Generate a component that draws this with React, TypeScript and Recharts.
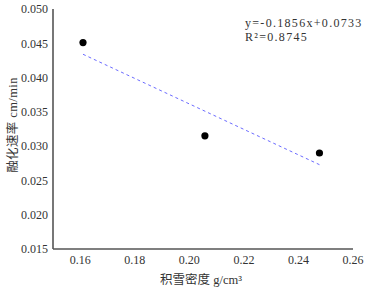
import React from 'react';
import { ScatterChart, Scatter, XAxis, YAxis, Label } from 'recharts';

const densityValues = [0.161, 0.2057, 0.2477];
const meltRateValues = [0.0451, 0.0315, 0.029];
const trendX = [0.161, 0.2477];
const trendY = [0.0434, 0.0273];
const xTicks = [0.16, 0.18, 0.2, 0.22, 0.24, 0.26];
const yTicks = [0.015, 0.02, 0.025, 0.03, 0.035, 0.04, 0.045, 0.05];
const equationText = 'y=-0.1856x+0.0733';
const r2Text = 'R²=0.8745';
const xLabel = '积雪密度 g/cm³';
const yLabel = '融化速率 cm/min';

const points = densityValues.map((x, i) => ({ x, y: meltRateValues[i] }));
const trend = trendX.map((x, i) => ({ x, y: trendY[i] }));

const FONT = '"Liberation Serif", "Noto Sans CJK SC", serif';
const TEXT = '#333';

const Dot = (props: any) => <circle cx={props.cx} cy={props.cy} r={3.6} fill="#000" />;
const NoShape = () => null;

export default function App() {
  return (
    <div style={{ position: 'absolute', left: 0, top: 0, width: 365, height: 288, background: '#fff' }}>
      <ScatterChart width={365} height={288} margin={{ top: 9, right: 12, bottom: 0, left: 0 }}>
        <XAxis
          type="number"
          dataKey="x"
          domain={[0.15, 0.26]}
          ticks={xTicks}
          tickFormatter={(v: number) => v.toFixed(2)}
          height={39}
          tickLine={false}
          tickSize={4}
          tickMargin={2}
          axisLine={{ stroke: '#555', strokeWidth: 1.6 }}
          tick={{ fill: TEXT, fontSize: 12, fontFamily: FONT }}
          allowDataOverflow
        >
          <Label
            content={() => (
              <text x={201} y={280} textAnchor="middle" dominantBaseline="central" fill={TEXT} fontSize={12.5} fontFamily={FONT}>
                {xLabel}
              </text>
            )}
          />
        </XAxis>
        <YAxis
          type="number"
          dataKey="y"
          domain={[0.015, 0.05]}
          ticks={yTicks}
          tickFormatter={(v: number) => v.toFixed(3)}
          width={53}
          tickLine={false}
          tickSize={3}
          tickMargin={2}
          axisLine={{ stroke: '#555', strokeWidth: 1.6 }}
          tick={{ fill: TEXT, fontSize: 12, fontFamily: FONT }}
          allowDataOverflow
        >
          <Label
            content={() => (
              <text
                x={13}
                y={125}
                transform="rotate(-90 13 125)"
                textAnchor="middle"
                dominantBaseline="central"
                fill={TEXT}
                fontSize={12.5}
                fontFamily={FONT}
                letterSpacing={0.4}
              >
                {yLabel}
              </text>
            )}
          />
        </YAxis>
        <Scatter
          data={trend}
          line={{ stroke: '#6b6bff', strokeWidth: 1, strokeDasharray: '3 3' }}
          shape={NoShape}
          isAnimationActive={false}
        />
        <Scatter data={points} shape={Dot} isAnimationActive={false} />
      </ScatterChart>
      <div
        style={{
          position: 'absolute',
          left: 245,
          top: 17,
          fontFamily: FONT,
          fontSize: 12,
          color: TEXT,
          lineHeight: '13.5px',
          letterSpacing: 1.3,
          whiteSpace: 'nowrap',
        }}
      >
        <div>{equationText}</div>
        <div>{r2Text}</div>
      </div>
    </div>
  );
}
